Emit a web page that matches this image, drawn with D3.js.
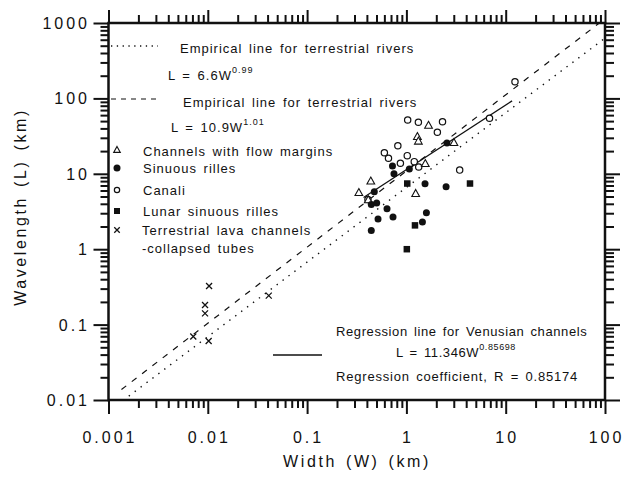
<!DOCTYPE html>
<html><head><meta charset="utf-8">
<script src="https://cdn.jsdelivr.net/npm/d3@7"></script>
<style>
body{margin:0;background:#fff;}
text{font-family:"Liberation Sans",Arial,Helvetica,sans-serif;fill:#111;}
</style></head>
<body><svg id="c" width="629" height="478"></svg>
<script>
// ---- data ----
const xTickLabels = ["0.001","0.01","0.1","1","10","100"];
const yTickLabels = ["0.01","0.1","1","10","100","1000"];
const xMajor = [0.001,0.01,0.1,1,10,100];
const yMajor = [0.01,0.1,1,10,100,1000];

// Channels with flow margins (open triangles)
const flowW = [1.67,1.29,1.32,3.01,1.55,0.438,0.332,1.24,0.413];
const flowL = [43.7,31.0,27.0,25.8,13.6,7.97,5.61,5.45,4.49];
// Sinuous rilles (filled circles)
const rillesW = [2.56,1.07,0.724,0.75,0.475,0.443,0.502,0.638,0.518,0.733,0.443,1.54,2.51,1.59,1.45];
const rillesL = [25.6,11.6,12.7,10.0,5.79,3.92,4.10,3.44,2.52,2.67,1.77,7.39,6.74,3.04,2.30];
// Canali (open circles)
const canaliW = [1.03,1.32,2.31,2.05,0.82,0.60,0.66,1.02,0.87,1.20,1.33,3.44,6.87,12.4,0.41];
const canaliL = [51.7,48.2,49.1,35.5,23.6,19.05,16.1,17.4,13.8,14.5,12.3,11.2,54.5,166.5,4.56];
// Lunar sinuous rilles (filled squares)
const lunarW = [1.02,4.37,1.22,1.01];
const lunarL = [7.43,7.43,2.07,1.0];
// Terrestrial lava channels - collapsed tubes (x)
const lavaW = [0.0103,0.00938,0.00938,0.00714,0.0102,0.0411];
const lavaL = [0.325,0.182,0.141,0.0695,0.0606,0.242];

// fitted lines: [coef, exponent, Wstart, Wend]
const dottedFit = [6.6, 0.99, 0.0016, 100];
const dashedFit = [10.9, 1.01, 0.00135, 87.8];
const regressionFit = [11.346, 0.85698, 0.37, 11.6];

// ---- chart ----
const svg = d3.select("#c");
const x = d3.scaleLog().domain([0.001,100]).range([108.5,605]);
const y = d3.scaleLog().domain([0.01,1000]).range([400,23]);

function minors(majors){
  const out=[];
  for(let i=0;i<majors.length-1;i++) for(let k=2;k<=9;k++) out.push(majors[i]*k);
  return out;
}
const xMinor = minors(xMajor), yMinor = minors(yMajor);

const X0=x.range()[0], X1=x.range()[1], Y0=y.range()[0], Y1=y.range()[1];

function drawTicks(g, axisFn, scale, vals, size){
  g.call(axisFn(scale).tickValues(vals).tickSize(size).tickFormat(""))
   .call(s=>s.select(".domain").remove())
   .selectAll("line").attr("stroke","#111").attr("stroke-width",2);
}
const gb = svg.append("g").attr("transform",`translate(0,${Y0})`);
drawTicks(gb.append("g"), d3.axisBottom, x, xMinor, 8);
drawTicks(gb.append("g"), d3.axisBottom, x, xMajor, 14);
const gt = svg.append("g").attr("transform",`translate(0,${Y1})`);
drawTicks(gt.append("g"), d3.axisTop, x, xMinor, 8);
drawTicks(gt.append("g"), d3.axisTop, x, xMajor, 13);
const gl = svg.append("g").attr("transform",`translate(${X0},0)`);
drawTicks(gl.append("g"), d3.axisLeft, y, yMinor, 8);
drawTicks(gl.append("g"), d3.axisLeft, y, yMajor, 15);
const gr = svg.append("g").attr("transform",`translate(${X1},0)`);
drawTicks(gr.append("g"), d3.axisRight, y, yMinor, 9);
drawTicks(gr.append("g"), d3.axisRight, y, yMajor, 15);

svg.append("rect").attr("x",X0).attr("y",Y1).attr("width",X1-X0).attr("height",Y0-Y1)
  .attr("fill","none").attr("stroke","#111").attr("stroke-width",2.5);

svg.append("g").selectAll("text").data(xMajor).join("text")
  .attr("x",(d)=>x(d)+1.5).attr("y",443).attr("text-anchor","middle")
  .style("font-size","16px").style("letter-spacing","3px")
  .text((d,i)=>xTickLabels[i]);
svg.append("g").selectAll("text").data(yMajor).join("text")
  .attr("x",90).attr("y",d=>y(d)+6).attr("text-anchor","end")
  .style("font-size","16px").style("letter-spacing","3px")
  .text((d,i)=>yTickLabels[i]);

svg.append("text").attr("x",357).attr("y",467).attr("text-anchor","middle")
  .style("font-size","16px").style("letter-spacing","2.6px").style("word-spacing","2px")
  .text("Width (W) (km)");
svg.append("text").attr("transform","translate(26,207) rotate(-90)").attr("text-anchor","middle")
  .style("font-size","16px").style("letter-spacing","2.6px").style("word-spacing","2px")
  .text("Wavelength (L) (km)");

svg.append("clipPath").attr("id","pc").append("rect")
  .attr("x",X0).attr("y",Y1).attr("width",X1-X0).attr("height",Y0-Y1);
function fitLine(f, dash, w){
  const [a,b,w0,w1]=f;
  const pts=[w0,w1].map(W=>[x(W),y(a*Math.pow(W,b))]);
  svg.append("path").attr("d",d3.line()(pts)).attr("fill","none")
    .attr("stroke","#111").attr("stroke-width",w).attr("clip-path","url(#pc)")
    .attr("stroke-dasharray",dash).attr("stroke-linecap","butt");
}
fitLine(dottedFit,"1.4,6",1.4);
fitLine(dashedFit,"6,7",1.2);
fitLine(regressionFit,null,1.3);

function tri(g,cx,cy,s){g.append("path").attr("d",`M${cx},${cy-s*0.6}L${cx+s*0.55},${cy+s*0.4}L${cx-s*0.55},${cy+s*0.4}Z`)
  .attr("fill","#fff").attr("stroke","#111").attr("stroke-width",1.1);}
function dotF(g,cx,cy,s){g.append("circle").attr("cx",cx).attr("cy",cy).attr("r",s/2).attr("fill","#111");}
function dotO(g,cx,cy,s){g.append("circle").attr("cx",cx).attr("cy",cy).attr("r",s/2-0.6).attr("fill","#fff").attr("stroke","#111").attr("stroke-width",1.2);}
function sq(g,cx,cy,s){g.append("rect").attr("x",cx-s/2).attr("y",cy-s/2).attr("width",s).attr("height",s).attr("fill","#111");}
function cross(g,cx,cy,s){const h=s/2;g.append("path").attr("d",`M${cx-h},${cy-h}L${cx+h},${cy+h}M${cx-h},${cy+h}L${cx+h},${cy-h}`)
  .attr("stroke","#111").attr("stroke-width",1.3);}

const gp = svg.append("g");
canaliW.forEach((w,i)=>dotO(gp,x(w),y(canaliL[i]),7.5));
flowW.forEach((w,i)=>tri(gp,x(w),y(flowL[i]),7));
rillesW.forEach((w,i)=>dotF(gp,x(w),y(rillesL[i]),7));
lunarW.forEach((w,i)=>sq(gp,x(w),y(lunarL[i]),6.5));
lavaW.forEach((w,i)=>cross(gp,x(w),y(lavaL[i]),6));

const lg = svg.append("g");
function txt(xx,yy,s,ls){return lg.append("text").attr("x",xx).attr("y",yy)
  .style("font-size","13px").style("letter-spacing",(ls==null?1.0:ls)+"px").style("word-spacing","2px").text(s);}
lg.append("line").attr("x1",111).attr("x2",158).attr("y1",46).attr("y2",46)
  .attr("stroke","#111").attr("stroke-width",1.3).attr("stroke-dasharray","1.3,4.5");
txt(180,53,"Empirical line for terrestrial rivers");
let t=txt(168,80,"L = 6.6W"); t.append("tspan").attr("dy",-7).style("font-size","9px").text("0.99");
lg.append("line").attr("x1",111).attr("x2",160).attr("y1",99).attr("y2",99)
  .attr("stroke","#111").attr("stroke-width",1.2).attr("stroke-dasharray","5,5");
txt(183,107,"Empirical line for terrestrial rivers");
t=txt(171,132,"L = 10.9W"); t.append("tspan").attr("dy",-7).style("font-size","9px").text("1.01");
tri(lg,117,150,6); txt(143,156,"Channels with flow margins");
dotF(lg,117,168,7); txt(143,173,"Sinuous rilles");
dotO(lg,117,190,6.5); txt(143,195,"Canali");
sq(lg,117,211,6); txt(143,216,"Lunar sinuous rilles");
cross(lg,117,230,5.5); txt(142,235,"Terrestrial lava channels");
txt(142,253,"-collapsed tubes");

lg.append("line").attr("x1",273).attr("x2",322).attr("y1",355).attr("y2",355)
  .attr("stroke","#111").attr("stroke-width",1.3);
txt(336,336,"Regression line for Venusian channels",0.6);
t=txt(396,357,"L = 11.346W",0.6); t.append("tspan").attr("dy",-7).style("font-size","9px").text("0.85698");
txt(336,381,"Regression coefficient, R = 0.85174",0.8);
</script></body></html>
